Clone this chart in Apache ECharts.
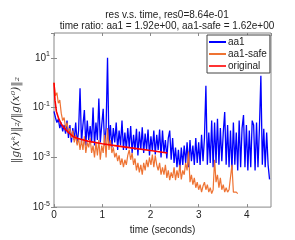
<!DOCTYPE html>
<html><head><meta charset="utf-8">
<script src="https://cdn.jsdelivr.net/npm/echarts@6/dist/echarts.min.js"></script>
<style>html,body{margin:0;padding:0;background:#fff}#c{width:295px;height:240px}</style>
</head><body><div id="c"></div>
<script>
const time = [
0,0.03,0.06,0.09,0.12,0.15,0.18,0.21,0.24,0.27,
0.30,0.33,0.36,0.39,0.42,0.45,0.48,0.51,0.54,0.57,
0.60,0.63,0.66,0.69,0.72,0.75,0.78,0.81,0.84,0.87,
0.90,0.93,0.96,0.99,1.02,1.05,1.08,1.11,1.14,1.17,
1.20,1.23,1.26,1.29,1.32,1.35,1.38,1.41,1.44,1.47,
1.50,1.53,1.56,1.59,1.62,1.65,1.68,1.71,1.74,1.77,
1.80,1.83,1.86,1.89,1.92,1.95,1.98,2.01,2.04,2.07,
2.10,2.13,2.16,2.19,2.22,2.25,2.28,2.31,2.34,2.37,
2.40,2.43,2.46,2.49,2.52,2.55,2.58,2.61,2.64,2.67,
2.70,2.73,2.76,2.79,2.82,2.85,2.88,2.91,2.94,2.97,
3.00,3.03,3.06,3.09,3.12,3.15,3.18,3.21,3.24,3.27,
3.30,3.33,3.36,3.39,3.42,3.45,3.48,3.51,3.54,3.57,
3.60,3.63,3.66,3.69,3.72,3.75,3.78,3.81,3.84,3.87,
3.90,3.93,3.96,3.99,4.02,4.05,4.08,4.11,4.14,4.17,
4.20,4.23,4.26,4.29,4.32,4.35,4.38,4.41,4.44,4.47];

const aa1 = [
7e-2,4e-2,2.5e-2,3.5e-2,1.5e-2,2.5e-2,1.1e-2,2e-2,9e-3,3e-2,
6e-3,2e-2,4e-3,1.5e-2,5e-3,2.5e-2,3.5e-3,1.2e-2,6e-1,4e-3,
2e-2,8e-2,3e-3,3e-2,5e-3,1.8e-2,4e-3,1e-1,3e-3,2.5e-2,
5e-3,2.3e-1,4e-3,2e-2,9e-2,3e-3,1.5e-2,1e1,3e-3,2e-2,
2.5e-3,1.5e-2,4e-3,2.5e-2,2e-3,1.2e-2,3e-3,3e-2,2e-3,1e-2,
2e-3,1.5e-2,2.5e-3,1.8e-2,1.5e-3,8e-3,2e-3,1.4e-2,1.2e-3,1.1e-2,
2e-3,1.6e-2,1.5e-3,9e-3,2e-3,1.3e-2,1.2e-3,7e-3,1.8e-3,1.2e-2,
1.3e-3,8e-3,2e-3,1.3e-2,1e-3,1.2e-2,1.5e-3,5e-3,9e-4,6e-3,
1.2e-2,8e-4,6e-3,6e-4,2.5e-3,4e-4,2e-3,3e-4,2.5e-3,5e-4,
3e-3,6e-4,4e-3,4e-4,5e-3,7e-4,3e-3,5e-4,6e-3,6e-4,
4e-3,5e-4,8e-3,7e-4,6e-3,7.6e-1,5e-4,1e-2,6e-4,3e-2,
4e-4,2.5e-2,6e-4,3.6e-2,5e-4,1.5e-2,7e-4,1e-2,6.6e-2,5e-4,
2e-2,4e-4,1.2e-2,3e-4,2.5e-2,5e-4,1e-2,3e-4,3e-2,4e-4,
1.5e-2,5e-2,4e-4,2e-2,3e-4,1.2e-2,4e-4,3e-2,2e-2,3e-4,
2.5e-2,4e-4,1.5e-2,1.9,5e-4,1.4e-2,4e-4,1e-2,5e-4,1.3e-4];

const aa1Safe = [
1,3e-1,4e-1,1.5e-1,2e-1,6e-2,3e-2,4e-2,1.5e-2,2.5e-2,
1e-2,1.5e-2,6e-3,1.2e-2,4e-3,8e-3,3e-3,6e-3,2e-3,5e-3,
2e-3,7e-3,1.5e-3,4e-3,2.5e-3,6e-3,1.5e-3,3e-3,1e-3,4e-3,
1.2e-3,5e-3,8e-4,3e-3,1.5e-3,8e-3,1e-3,1.5e-2,2e-3,5e-3,
1.5e-3,2.5e-3,1e-3,1.5e-3,7e-4,1.2e-3,5e-4,9e-4,4e-4,8e-4,
5e-4,1.2e-3,2e-3,8e-4,1.5e-3,5e-4,9e-4,3e-4,6e-4,2.5e-4,
5e-4,2e-4,6e-4,3e-4,8e-4,4e-4,1e-3,5e-4,1.3e-3,4e-4,
1.2e-3,5e-4,3e-4,6e-4,2e-4,4e-4,2e-4,5e-4,1.5e-4,3e-4,
1.2e-4,2.5e-4,1.5e-4,4e-4,1.2e-4,3e-4,1.5e-4,5e-4,1.3e-4,3e-4,
2e-4,6e-4,3e-4,1.7e-3,1e-4,2e-4,8e-5,1.5e-4,6e-5,1e-4,
5e-5,8e-5,4e-5,7e-5,1e-4,5e-5,8e-5,4e-5,6e-5,3.5e-5,
5e-5,8e-4,1e-4,2e-4,6e-5,1.5e-4,5e-5,8e-5,4e-5,6e-5,
4e-5,5e-5,4.5e-5,5e-4,4e-5,3.5e-5,4e-5,3.5e-5];

const timeOriginal = [0,0.02,0.05,0.1,0.15,0.2,0.3,0.4,0.5,0.7,1.0,1.3,1.6,2.0,2.35];
const original = [1,0.2,0.07,0.035,0.022,0.016,0.01,0.0068,0.0057,0.0045,0.0035,0.0029,0.0024,0.0019,0.0015];

const seriesNames = ['aa1','aa1-safe','original'];
const xTicks = [0,1,2,3,4];
const titleLines = ['res v.s. time, res0=8.64e-01','time ratio: aa1 = 1.92e+00, aa1-safe = 1.62e+00'];

function pairs(t, v){ return v.map((y,i)=>[t[i], y]); }

const FONT = 'Liberation Sans';
const chart = echarts.init(document.getElementById('c'), null, {renderer:'canvas'});
chart.setOption({
  animation:false,
  backgroundColor:'#fff',
  title:[
    {text:titleLines[0], left:162, top:5, textAlign:'center',
     textStyle:{fontFamily:FONT,fontSize:10,fontWeight:'normal',color:'#222'}},
    {text:titleLines[1], left:162, top:16, textAlign:'center',
     textStyle:{fontFamily:FONT,fontSize:10,fontWeight:'normal',color:'#222'}}
  ],
  legend:{
    left:207, top:35, orient:'vertical',
    data:seriesNames,
    icon:'rect', itemWidth:17, itemHeight:2, itemGap:0,
    backgroundColor:'#fff', borderColor:'#444', borderWidth:1,
    padding:[1,3,1,2],
    textStyle:{fontFamily:FONT,fontSize:10,color:'#222',lineHeight:12,padding:[0,0,0,-3]}
  },
  grid:{left:54,right:24,top:33,bottom:31,show:true,borderColor:'#888',borderWidth:1,backgroundColor:'transparent'},
  xAxis:[
    {type:'value',min:0,max:4.5,interval:1,
     axisLine:{show:false},
     axisTick:{show:true,inside:true,length:3,lineStyle:{color:'#888'}},
     splitLine:{show:false},
     axisLabel:{showMaxLabel:false,margin:3,fontFamily:FONT,fontSize:10,color:'#222'},
     name:'time (seconds)',nameLocation:'middle',nameGap:15,
     nameTextStyle:{fontFamily:FONT,fontSize:10,color:'#222'}},
    {type:'value',min:0,max:4.5,interval:1,position:'top',
     axisLine:{show:false},
     axisTick:{show:true,inside:true,length:3,lineStyle:{color:'#888'}},
     splitLine:{show:false},axisLabel:{show:false}}
  ],
  yAxis:[
    {type:'log',logBase:10,min:1e-5,max:1e2,interval:2,
     axisLine:{show:false},
     axisTick:{show:true,inside:true,length:3,lineStyle:{color:'#888'}},
     minorTick:{show:false},
     splitLine:{show:false},
     axisLabel:{showMaxLabel:false,margin:4,fontFamily:FONT,fontSize:10,color:'#222',
       formatter:function(v){const e=Math.round(Math.log10(v));return '10{sup|'+e+'}';},
       rich:{sup:{fontFamily:FONT,fontSize:7,color:'#222',padding:[0,0,7,0]}}},
     name:'‖g(xᵏ)‖₂/‖g(x⁰)‖₂',nameLocation:'middle',nameGap:24,nameRotate:90,
     nameTextStyle:{fontFamily:'DejaVu Serif',fontStyle:'italic',fontSize:11,color:'#333'}},
    {type:'log',logBase:10,min:1e-5,max:1e2,interval:2,position:'right',
     axisLine:{show:false},
     axisTick:{show:true,inside:true,length:3,lineStyle:{color:'#888'}},
     splitLine:{show:false},axisLabel:{show:false}}
  ],
  series:[
    {name:seriesNames[0],type:'line',data:pairs(time,aa1),showSymbol:false,symbol:'none',
     lineStyle:{color:'#0000ff',width:1.3},itemStyle:{color:'#0000ff'},z:2},
    {name:seriesNames[1],type:'line',data:pairs(time,aa1Safe),showSymbol:false,symbol:'none',
     lineStyle:{color:'#ee7333',width:1.2},itemStyle:{color:'#ee7333'},z:3},
    {name:seriesNames[2],type:'line',data:pairs(timeOriginal,original),showSymbol:false,symbol:'none',
     lineStyle:{color:'#ff0000',width:1.6},itemStyle:{color:'#ff3333'},z:4}
  ]
});
</script>
</body></html>
